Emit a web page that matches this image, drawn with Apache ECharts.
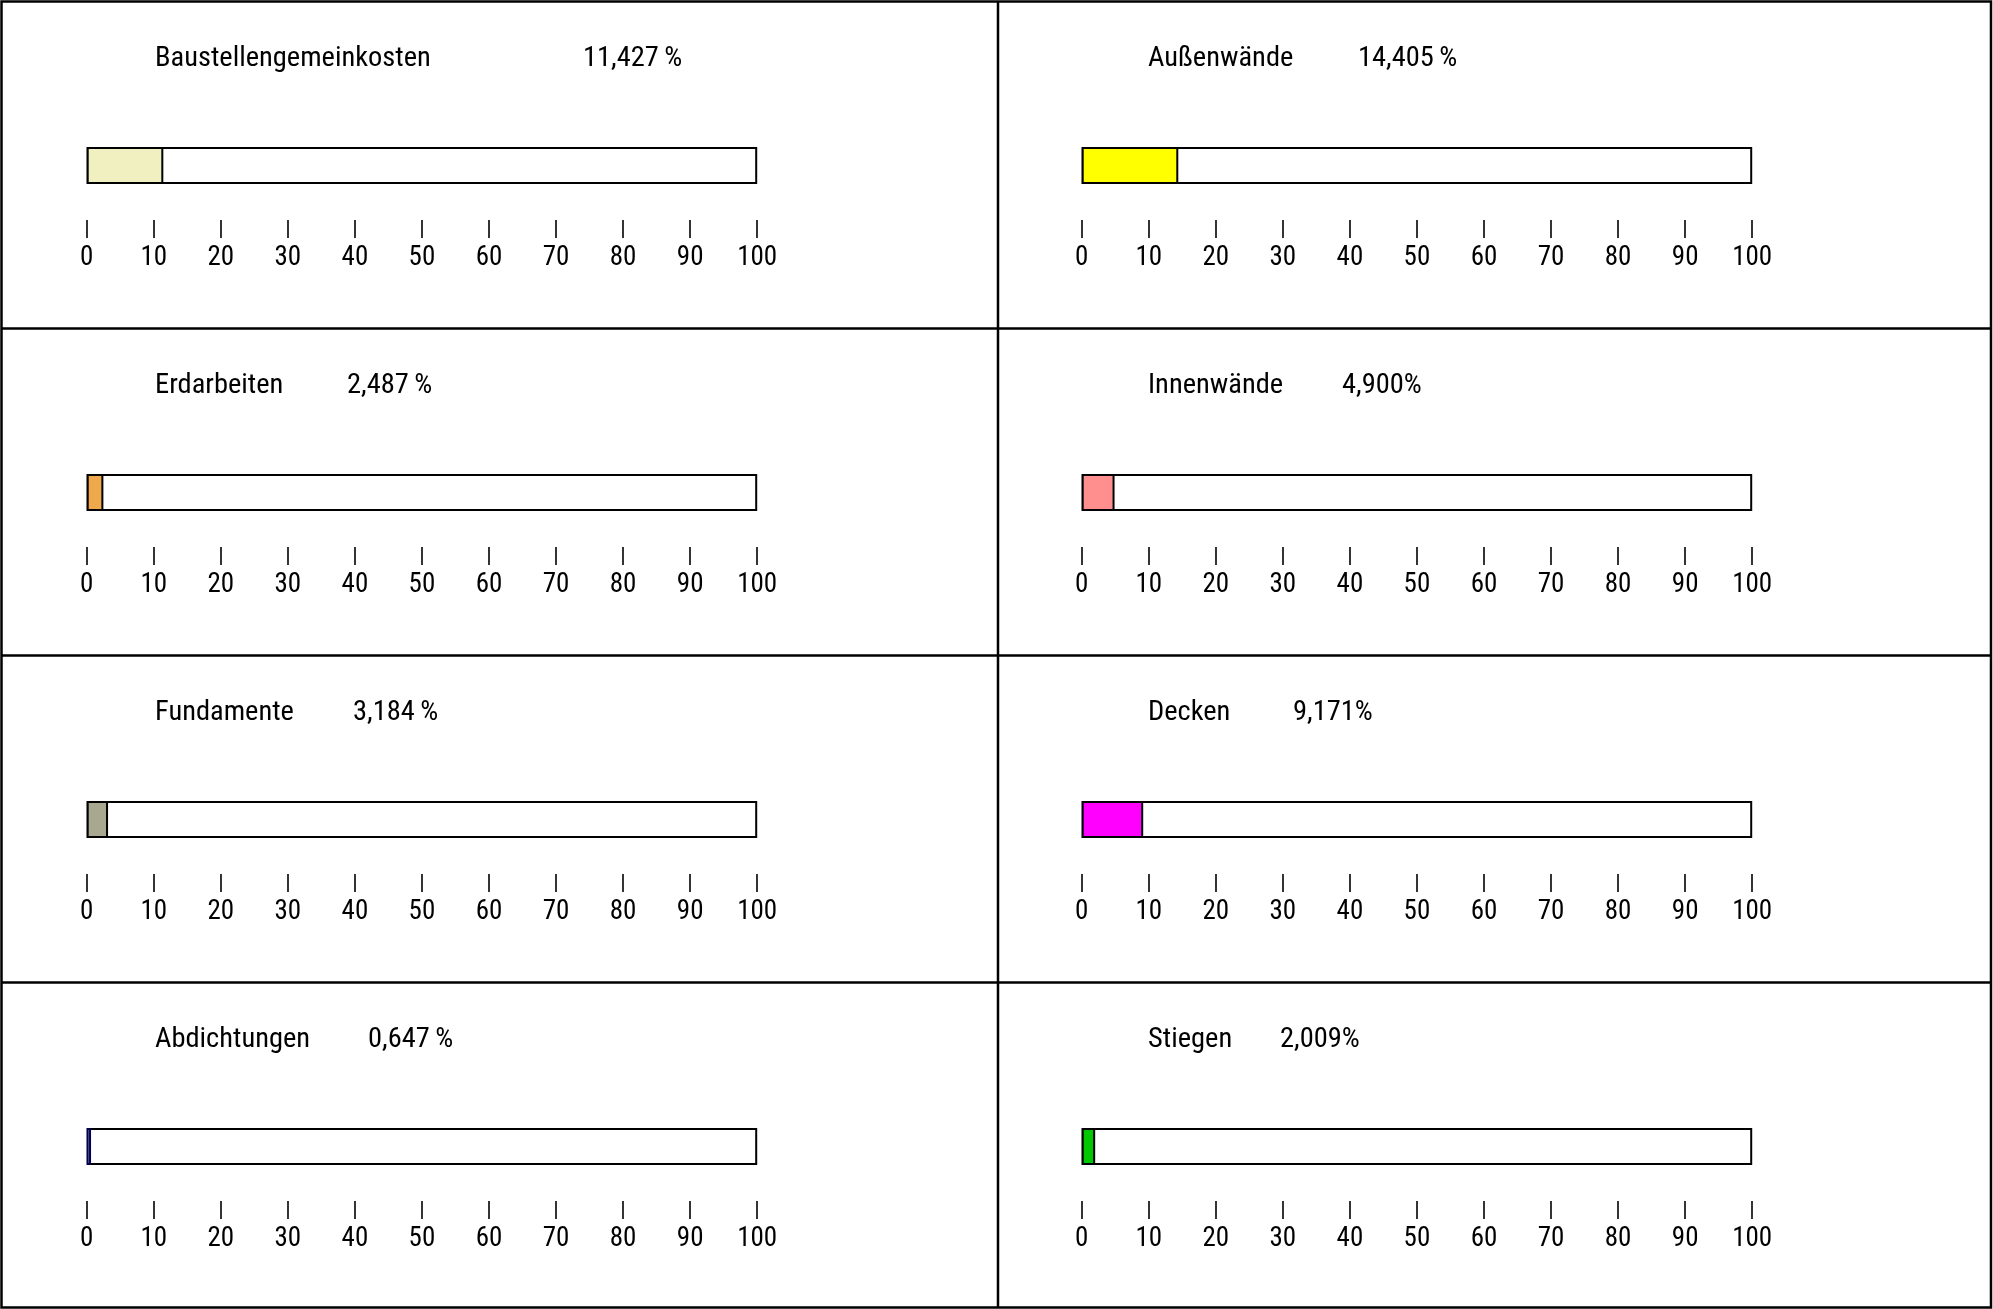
<!DOCTYPE html>
<html>
<head>
<meta charset="utf-8">
<script src="https://cdn.jsdelivr.net/npm/echarts@6/dist/echarts.min.js"></script>
<style>
html,body{margin:0;padding:0;background:#fff;}
#chart{width:1993px;height:1309px;}
</style>
</head>
<body>
<div id="chart"></div>
<script>
// ---- data ----
const categories = ['Baustellengemeinkosten', 'Erdarbeiten', 'Fundamente', 'Abdichtungen',
                    'Außenwände', 'Innenwände', 'Decken', 'Stiegen'];
const values = [11.427, 2.487, 3.184, 0.647, 14.405, 4.900, 9.171, 2.009];
const percentSuffix = ['\u2009%', '\u2009%', '\u2009%', '\u2009%', '\u2009%', '%', '%', '%'];
const fillColors = ['#F0F0C0', '#F0A84C', '#A8A890', '#E0E0FF', '#FFFF00', '#FF8F8F', '#FF00FF', '#00C800'];
const borderColors = ['#000000', '#000000', '#000000', '#000050', '#000000', '#000000', '#000000', '#000000'];
const scaleMax = [100];
const tickLabels = ['0', '10', '20', '30', '40', '50', '60', '70', '80', '90', '100'];

// ---- font selection (narrow font if installed) ----
const ctx = document.createElement('canvas').getContext('2d');
function hasFont(f) {
  const t = 'Baustellengemeinkosten 0123456789';
  for (const base of ['monospace', 'serif']) {
    ctx.font = '40px ' + base; const a = ctx.measureText(t).width;
    ctx.font = '40px "' + f + '", ' + base; const b = ctx.measureText(t).width;
    if (Math.abs(a - b) > 0.5) return true;
  }
  return false;
}
const candidates = ['Liberation Sans Narrow', 'Arial Narrow', 'Noto Sans Condensed', 'Roboto Condensed',
                    'Open Sans Condensed', 'DejaVu Sans Condensed', 'Liberation Sans'];
const chosen = candidates.find(hasFont) || 'sans-serif';
const FONT = '"' + chosen + '", sans-serif';
function fitSize(text, target, lo, hi) {
  ctx.font = '100px ' + FONT;
  const w = ctx.measureText(text).width;
  return Math.max(lo, Math.min(hi, 100 * target / w));
}
const titleSize = fitSize('Baustellengemeinkosten', 276, 18, 29);
const tickSize = fitSize('100', 40, 20, 30);

// ---- layout ----
const rowTops = [1.5, 328.5, 655.5, 982.5];
const colLefts = [86.7, 1081.7];
const barWidthPx = 670.5;
const nameLefts = [155, 1148];
const valueLefts = [583, 347, 353, 368, 1358, 1342, 1293, 1280];

const grids = [], xAxes = [], yAxes = [], series = [], titles = [];
categories.forEach((name, i) => {
  const col = i < 4 ? 0 : 1;
  const row = i % 4;
  const top = rowTops[row];
  grids.push({left: colLefts[col], width: barWidthPx, top: top + 145.5, height: 37, containLabel: false});
  xAxes.push({
    type: 'value', gridIndex: i, min: 0, max: scaleMax[0], interval: 10,
    position: 'bottom', offset: 36,
    axisLine: {show: false},
    axisTick: {show: true, length: 18, inside: false, lineStyle: {color: '#000', width: 1.6}},
    splitLine: {show: false},
    axisLabel: {
      show: true, margin: 25, color: '#000', fontFamily: FONT, fontSize: tickSize,
      showMinLabel: true, showMaxLabel: true, hideOverlap: false,
      formatter: v => tickLabels[Math.round(v / 10)]
    }
  });
  yAxes.push({type: 'category', gridIndex: i, data: [name], show: false});
  series.push({
    type: 'bar', xAxisIndex: i, yAxisIndex: i, data: scaleMax, barWidth: '100%',
    silent: true, animation: false,
    itemStyle: {color: '#FFFFFF', borderColor: '#000', borderWidth: 2}
  });
  series.push({
    type: 'bar', xAxisIndex: i, yAxisIndex: i, data: [values[i]], barWidth: '100%', barGap: '-100%',
    silent: true, animation: false,
    itemStyle: {color: fillColors[i], borderColor: borderColors[i], borderWidth: 2}
  });
  const ts = {fontFamily: FONT, fontSize: titleSize, fontWeight: 'normal', color: '#000', lineHeight: 30};
  titles.push({text: name, left: nameLefts[col], top: top + 42, padding: 0, textStyle: ts});
  titles.push({
    text: values[i].toFixed(3).replace('.', ',') + percentSuffix[i],
    left: valueLefts[i], top: top + 42, padding: 0, textStyle: ts
  });
});

const frameStyle = {stroke: '#000', lineWidth: 2.5, fill: null};
const graphic = [
  {type: 'rect', shape: {x: 1.5, y: 1.5, width: 1989.5, height: 1306}, style: frameStyle, silent: true},
  {type: 'line', shape: {x1: 998, y1: 1.5, x2: 998, y2: 1307.5}, style: frameStyle, silent: true},
  {type: 'line', shape: {x1: 1.5, y1: 328.5, x2: 1991, y2: 328.5}, style: frameStyle, silent: true},
  {type: 'line', shape: {x1: 1.5, y1: 655.5, x2: 1991, y2: 655.5}, style: frameStyle, silent: true},
  {type: 'line', shape: {x1: 1.5, y1: 982.5, x2: 1991, y2: 982.5}, style: frameStyle, silent: true}
];

const chart = echarts.init(document.getElementById('chart'), null, {renderer: 'canvas'});
chart.setOption({
  backgroundColor: '#FFFFFF',
  animation: false,
  title: titles,
  grid: grids,
  xAxis: xAxes,
  yAxis: yAxes,
  series: series,
  graphic: graphic,
  tooltip: {show: false}
});
</script>
</body>
</html>
